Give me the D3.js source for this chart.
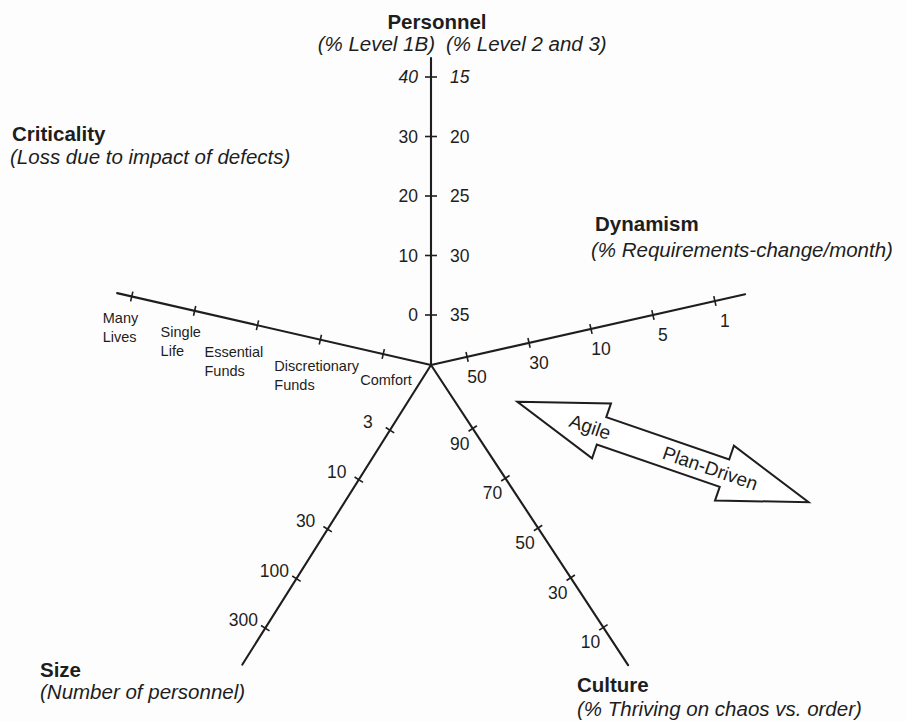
<!DOCTYPE html>
<html><head><meta charset="utf-8">
<script src="https://cdn.jsdelivr.net/npm/d3@7"></script>
<style>
body{margin:0;background:#fdfdfd}
svg{display:block}
text{font-family:"Liberation Sans",Arial,Helvetica,sans-serif;fill:#1e1e1e}
</style>
</head><body>
<svg id="c" width="906" height="721"></svg>
<script>
// ---- data ----
const personnelLeft = [0, 10, 20, 30, 40];          // % Level 1B
const personnelRight = [35, 30, 25, 20, 15];        // % Level 2 and 3
const criticality = ["Comfort", "Discretionary Funds", "Essential Funds", "Single Life", "Many Lives"];
const dynamism = [50, 30, 10, 5, 1];
const size = [3, 10, 30, 100, 300];
const culture = [90, 70, 50, 30, 10];
const titles = ["Personnel", "Criticality", "Dynamism", "Size", "Culture"];
const subtitles = ["(% Level 1B)", "(% Level 2 and 3)", "(Loss due to impact of defects)",
  "(% Requirements-change/month)", "(Number of personnel)", "(% Thriving on chaos vs. order)"];
const arrowLabels = ["Agile", "Plan-Driven"];

// ---- layout ----
const svg = d3.select("#c");
const cx = 431, cy = 365;
const ink = "#1e1e1e";
function unit(deg){ const r = deg*Math.PI/180; return [Math.cos(r), Math.sin(r)]; }

const axes = [
  {name:"personnel", angle:-90, len:307, scale:d3.scaleLinear().domain([0,40]).range([50,288]), ticks:personnelLeft, tick:6},
  {name:"criticality", angle:192.9, len:322, scale:d3.scalePoint().domain(criticality).range([49,307]), ticks:criticality, tick:5},
  {name:"dynamism", angle:-12.7, len:322, scale:d3.scalePoint().domain(dynamism).range([37,291]), ticks:dynamism, tick:5},
  {name:"size", angle:122.2, len:354, scale:d3.scalePoint().domain(size).range([77,311]), ticks:size, tick:5},
  {name:"culture", angle:56.7, len:359, scale:d3.scalePoint().domain(culture).range([76,314]), ticks:culture, tick:5}
];
const personnelRightScale = d3.scaleLinear().domain([35,15]).range([50,288]);

const g = svg.append("g");
axes.forEach(a => {
  const [ux, uy] = unit(a.angle);
  a.ux = ux; a.uy = uy;
  a.pt = v => { const d = a.scale(v); return [cx + ux*d, cy + uy*d]; };
  g.append("line").attr("x1", cx).attr("y1", cy)
    .attr("x2", cx + ux*a.len).attr("y2", cy + uy*a.len)
    .attr("stroke", ink).attr("stroke-width", 2.1).attr("stroke-linecap", "round");
  g.selectAll(null).data(a.ticks).join("line")
    .attr("x1", d => a.pt(d)[0] - uy*a.tick).attr("y1", d => a.pt(d)[1] + ux*a.tick)
    .attr("x2", d => a.pt(d)[0] + uy*a.tick).attr("y2", d => a.pt(d)[1] - ux*a.tick)
    .attr("stroke", ink).attr("stroke-width", 1.6);
});
const A = Object.fromEntries(axes.map(a => [a.name, a]));

// personnel labels
const numFont = "17.5px";
g.selectAll(null).data(personnelLeft).join("text")
  .attr("x", cx - 13).attr("y", d => cy - A.personnel.scale(d) + 6)
  .attr("text-anchor", "end").attr("font-size", numFont)
  .attr("font-style", (d,i) => i === personnelLeft.length-1 ? "italic" : "normal")
  .text(d => d);
g.selectAll(null).data(personnelRight).join("text")
  .attr("x", cx + 19).attr("y", d => cy - personnelRightScale(d) + 6)
  .attr("text-anchor", "start").attr("font-size", numFont)
  .attr("font-style", (d,i) => i === personnelRight.length-1 ? "italic" : "normal")
  .text(d => d);

// criticality labels (two lines, hand-placed below each tick as in the original)
const critNudge = [[-23, 30.5], [-46, 31.5], [-53, 31.5], [-34, 26.5], [-29, 26.5]];
const crit = g.selectAll(null).data(criticality).join("text")
  .attr("text-anchor", "start").attr("font-size", "14.5px")
  .attr("transform", (d,i) => { const p = A.criticality.pt(d); return `translate(${p[0]+critNudge[i][0]},${p[1]+critNudge[i][1]})`; });
crit.selectAll("tspan").data(d => d.split(" ")).join("tspan")
  .attr("x", 0).attr("dy", (d,i) => i ? 19 : 0).text(d => d);

// numeric labels for other axes
function numLabels(a, dx, dy){
  g.selectAll(null).data(a.ticks).join("text")
    .attr("x", d => a.pt(d)[0] + dx).attr("y", d => a.pt(d)[1] + dy)
    .attr("text-anchor", "middle").attr("font-size", numFont).text(d => d);
}
numLabels(A.dynamism, 10, 26);
numLabels(A.size, -22, -2);
numLabels(A.culture, -13, 21);

// titles
const tFont = "20.5px";
function title(t, x, y, anchor){
  svg.append("text").attr("x", x).attr("y", y).attr("text-anchor", anchor||"start")
    .attr("font-size", tFont).attr("font-weight", "bold").text(t);
}
function sub(t, x, y, anchor){
  svg.append("text").attr("x", x).attr("y", y).attr("text-anchor", anchor||"start")
    .attr("font-size", tFont).attr("font-style", "italic").text(t);
}
title(titles[0], 437, 29, "middle");
sub(subtitles[0], 435, 51, "end");
sub(subtitles[1], 446, 51, "start");
title(titles[1], 12, 141); sub(subtitles[2], 10, 164);
title(titles[2], 595, 231); sub(subtitles[3], 591, 257);
title(titles[3], 40, 677); sub(subtitles[4], 40, 699);
title(titles[4], 577, 692); sub(subtitles[5], 577, 716);

// Agile / Plan-Driven double arrow
const arrow = {x:663, y:452, rot:19, half:154, head:89, hw:29, sw:14.5};
const hb = arrow.half - arrow.head;
const shape = [[-arrow.half,0],[-hb,-arrow.hw],[-hb,-arrow.sw],[hb,-arrow.sw],[hb,-arrow.hw],
  [arrow.half,0],[hb,arrow.hw],[hb,arrow.sw],[-hb,arrow.sw],[-hb,arrow.hw]];
const ag = svg.append("g").attr("transform", `translate(${arrow.x},${arrow.y}) rotate(${arrow.rot})`);
ag.append("path").attr("d", d3.line()(shape) + "Z")
  .attr("fill", "#ffffff").attr("stroke", ink).attr("stroke-width", 2).attr("stroke-linejoin", "miter");
ag.append("text").attr("x", -77).attr("y", 6.5).attr("text-anchor", "middle").attr("font-size", "19px").text(arrowLabels[0]);
ag.append("text").attr("x", 50).attr("y", 6.5).attr("text-anchor", "middle").attr("font-size", "19px").text(arrowLabels[1]);
</script>
</body></html>
